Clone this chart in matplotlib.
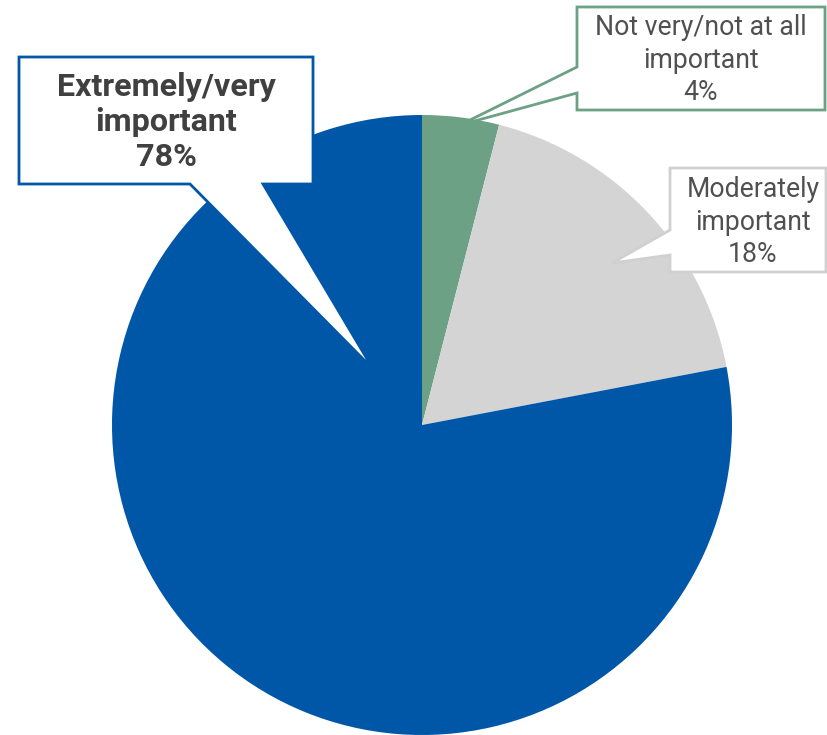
import matplotlib.pyplot as plt
from matplotlib.patches import Polygon

plt.rcParams['font.family'] = ['Roboto', 'DejaVu Sans']

labels = ['Not very/not at all\nimportant', 'Moderately\nimportant', 'Extremely/very\nimportant']
shares = [4, 18, 78]
colors = ['#6CA186', '#D4D4D4', '#0057A8']
edge_colors = ['#6CA186', '#D0D0D0', '#0057A8']

fig = plt.figure(figsize=(8.28, 7.35), dpi=100)
ax = fig.add_axes([0, 0, 1, 1])

# pie in pixel coordinates (y axis goes down, so angles are mirrored)
ax.pie(shares, colors=colors, startangle=-90, counterclock=True,
       center=(422, 425), radius=310, frame=True,
       wedgeprops=dict(linewidth=0))

# callout boxes (box + pointer), pixel coords
callouts = [
    [(577, 7), (825, 7), (825, 110), (577, 110), (577, 93), (460, 125), (577, 67)],
    [(670, 168), (826, 168), (826, 272), (670, 272), (670, 255), (612, 263), (670, 230)],
    [(19, 57), (313, 57), (313, 184), (263, 184), (373, 369), (190, 184), (19, 184)],
]
text_pos = [(701, 60), (753, 222), (166, 122)]

for i in range(3):
    ax.add_patch(Polygon(callouts[i], closed=True, facecolor='white',
                         edgecolor=edge_colors[i], linewidth=2, zorder=3))
    txt = labels[i] + '\n' + str(shares[i]) + '%'
    if i == 2:
        ax.text(text_pos[i][0], text_pos[i][1], txt, ha='center', va='center',
                fontsize=23.2, fontweight='bold', color='#404040',
                linespacing=1.2, zorder=4)
    else:
        ax.text(text_pos[i][0], text_pos[i][1], txt, ha='center', va='center',
                fontsize=19.2, color='#505050', linespacing=1.27, zorder=4)

ax.set_xlim(0, 828)
ax.set_ylim(735, 0)
ax.set_aspect('equal')
ax.axis('off')

fig.savefig('out.png', dpi=100)
